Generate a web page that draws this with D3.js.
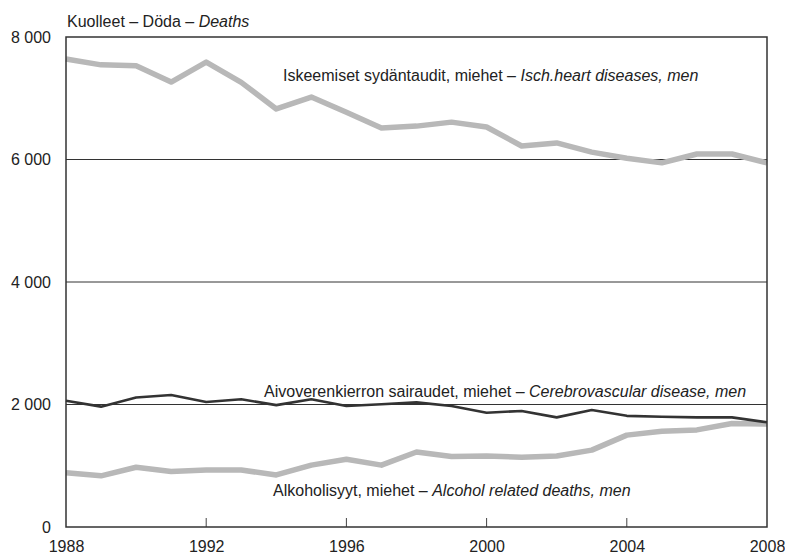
<!DOCTYPE html>
<html>
<head>
<meta charset="utf-8">
<script src="https://cdn.jsdelivr.net/npm/d3@7"></script>
<style>
  body { margin: 0; background: #fff; }
  svg text { font-family: "Liberation Sans", Arial, sans-serif; fill: #222; }
</style>
</head>
<body>
<div id="chart"></div>
<script>
// data
const years = d3.range(1988, 2009);
const heart = [7640, 7545, 7530, 7265, 7590, 7260, 6825, 7020, 6770, 6515, 6545,
  6610, 6530, 6220, 6270, 6120, 6020, 5945, 6090, 6090, 5945];
const cerebro = [2060, 1965, 2115, 2155, 2040, 2085, 1990, 2085, 1975, 2005, 2035,
  1975, 1865, 1895, 1790, 1910, 1815, 1800, 1790, 1790, 1710];
const alcohol = [885, 835, 975, 905, 930, 930, 850, 1010, 1105, 1010, 1225,
  1150, 1160, 1140, 1160, 1255, 1500, 1565, 1585, 1690, 1680];
const yTicks = [0, 2000, 4000, 6000, 8000];
const xTicks = [1988, 1992, 1996, 2000, 2004, 2008];

const series = [
  { values: heart, color: "#b8b8b8", width: 5.5 },
  { values: alcohol, color: "#b8b8b8", width: 5.5 },
  { values: cerebro, color: "#333", width: 2.6 }
];

const W = 785, H = 557;
const margin = { top: 37, right: 18, bottom: 30, left: 66 };
const width = W - margin.left - margin.right;
const height = H - margin.top - margin.bottom;

const svg = d3.select("#chart").append("svg")
  .attr("width", W).attr("height", H);

const g = svg.append("g")
  .attr("transform", "translate(" + margin.left + "," + margin.top + ")");

const x = d3.scaleLinear().domain([1988, 2008]).range([0, width]);
const y = d3.scaleLinear().domain([0, 8000]).range([height, 0]);

const fmt = (d) => d3.format(",")(d).replace(",", " ");

// gridlines
g.append("g")
  .selectAll("line")
  .data(yTicks.filter((d) => d > 0 && d < 8000))
  .join("line")
  .attr("x1", 0).attr("x2", width)
  .attr("y1", (d) => y(d)).attr("y2", (d) => y(d))
  .attr("stroke", "#333").attr("stroke-width", 1);

// y axis labels
const yAxis = g.append("g")
  .call(d3.axisLeft(y).tickValues(yTicks).tickFormat(fmt).tickSize(0).tickPadding(15));
yAxis.select(".domain").remove();
yAxis.selectAll("text").attr("font-size", 16).attr("fill", "#222")
  .style("font-family", "Liberation Sans, Arial, sans-serif");

// x axis: inward ticks + labels
const xAxis = g.append("g")
  .attr("transform", "translate(0," + height + ")")
  .call(d3.axisBottom(x).tickValues(xTicks).tickFormat(d3.format("d")).tickSize(0).tickPadding(14));
xAxis.select(".domain").remove();
xAxis.selectAll("text").attr("font-size", 16).attr("fill", "#222")
  .style("font-family", "Liberation Sans, Arial, sans-serif");
g.append("g")
  .selectAll("line")
  .data(xTicks.slice(1, -1))
  .join("line")
  .attr("x1", (d) => x(d)).attr("x2", (d) => x(d))
  .attr("y1", height).attr("y2", height - 9)
  .attr("stroke", "#444").attr("stroke-width", 1);

// lines
const line = d3.line().x((d, i) => x(years[i])).y((d) => y(d));
series.forEach((s) => {
  g.append("path")
    .datum(s.values)
    .attr("fill", "none")
    .attr("stroke", s.color)
    .attr("stroke-width", s.width)
    .attr("stroke-linejoin", "round")
    .attr("d", line);
});

// frame
g.append("rect")
  .attr("x", 0).attr("y", 0).attr("width", width).attr("height", height)
  .attr("fill", "none").attr("stroke", "#333").attr("stroke-width", 1.5);

// title
const title = svg.append("text").attr("x", 67).attr("y", 27).attr("font-size", 16);
title.append("tspan").text("Kuolleet – Döda – ");
title.append("tspan").attr("font-style", "italic").text("Deaths");

// series labels
const labels = [
  { fi: "Iskeemiset sydäntaudit, miehet – ", en: "Isch.heart diseases, men", x: 283, y: 81 },
  { fi: "Aivoverenkierron sairaudet, miehet – ", en: "Cerebrovascular disease, men", x: 264, y: 397 },
  { fi: "Alkoholisyyt, miehet – ", en: "Alcohol related deaths, men", x: 273, y: 496 }
];
labels.forEach((l) => {
  const t = svg.append("text").attr("x", l.x).attr("y", l.y).attr("font-size", 16);
  t.append("tspan").text(l.fi);
  t.append("tspan").attr("font-style", "italic").text(l.en);
});
</script>
</body>
</html>
